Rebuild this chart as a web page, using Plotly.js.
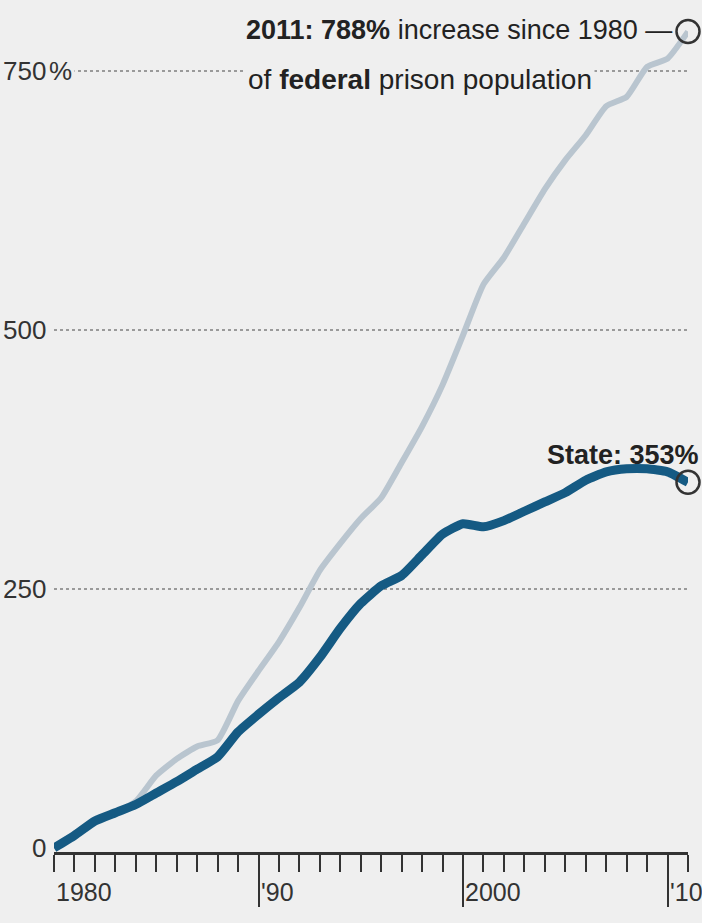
<!DOCTYPE html>
<html>
<head>
<meta charset="utf-8">
<script src="https://cdn.plot.ly/plotly-3.0.1.min.js"></script>
<style>html,body{margin:0;padding:0;background:#efefef;}#chart{width:702px;height:923px;}</style>
</head>
<body>
<div id="chart"></div>
<script>
// ---- data (percent increase since 1980) ----
var years = [1980,1981,1982,1983,1984,1985,1986,1987,1988,1989,1990,1991,1992,1993,1994,1995,
             1996,1997,1998,1999,2000,2001,2002,2003,2004,2005,2006,2007,2008,2009,2010,2011];
var federal = [0,14,26,34,45,70,86,98,104,142,171,199,232,268,294,318,
               338,372,407,447,495,544,570,603,636,664,688,716,725,754,762,788];
var state = [0,12,26,34,42,53,64,76,88,112,129,145,160,184,212,236,
             253,263,283,303,313,310,316,325,334,343,355,363,366,366,363,353];
var yTickVals = [0,250,500,750];
var yTickNums = ['0','250','500','750'];
var yTickSuffix = ['','','','%'];
var xLabelVals = [1980,1990,2000,2010];
var xLabelText = ['1980',"'90",'2000',"'10"];
var majorTicks = [1990,2000,2010];

var FONT = 'Liberation Sans, Arial, sans-serif';
var last = years.length - 1;

var traces = [
  {x: years, y: federal, type: 'scatter', mode: 'lines', hoverinfo: 'skip',
   line: {color: '#b9c5cf', width: 6, shape: 'spline', smoothing: 0.5}},
  {x: years, y: state, type: 'scatter', mode: 'lines', hoverinfo: 'skip',
   line: {color: '#155a83', width: 9, shape: 'spline', smoothing: 0.5}},
  {x: [years[last], years[last]], y: [federal[last], state[last]], type: 'scatter', mode: 'markers',
   cliponaxis: false, hoverinfo: 'skip',
   marker: {symbol: 'circle-open', size: 23, color: '#333', line: {width: 2.5, color: '#333'}}}
];

var annotations = [];
for (var i = 0; i < yTickVals.length; i++) {
  annotations.push({xref: 'paper', yref: 'y', x: 0, y: yTickVals[i], xanchor: 'right', yanchor: 'middle',
    xshift: -7, text: yTickNums[i], showarrow: false, font: {family: FONT, size: 26, color: '#333'},
    bgcolor: '#efefef', borderpad: 0});
  if (yTickSuffix[i]) {
    annotations.push({xref: 'paper', yref: 'y', x: 0, y: yTickVals[i], xanchor: 'left', yanchor: 'middle',
      xshift: -8, text: yTickSuffix[i], showarrow: false, font: {family: FONT, size: 26, color: '#333'},
      bgcolor: '#efefef', borderpad: 2});
  }
}
for (var j = 0; j < xLabelVals.length; j++) {
  annotations.push({xref: 'x', yref: 'paper', x: xLabelVals[j], y: 0, xanchor: 'left', yanchor: 'top',
    xshift: 0, yshift: -24, text: xLabelText[j], showarrow: false,
    font: {family: FONT, size: 25, color: '#333'}});
}
annotations.push({xref: 'paper', yref: 'paper', x: 0.301, y: 0.988, xanchor: 'left', yanchor: 'middle',
  text: '<b>' + years[last] + ': ' + federal[last] + '%</b> increase since 1980 \u2014',
  showarrow: false, font: {family: FONT, size: 27, color: '#222'}, bgcolor: '#efefef', borderpad: 0});
annotations.push({xref: 'paper', yref: 'paper', x: 0.301, y: 0.928, xanchor: 'left', yanchor: 'middle',
  text: 'of <b>federal</b> prison population',
  showarrow: false, font: {family: FONT, size: 28, color: '#222'}, bgcolor: '#efefef', borderpad: 2});
annotations.push({xref: 'x', yref: 'y', x: years[last], y: state[last], xanchor: 'right', yanchor: 'middle',
  xshift: 13, yshift: 27, text: '<b>State: ' + state[last] + '%</b>',
  showarrow: false, font: {family: FONT, size: 27, color: '#222'}});

var layout = {
  width: 702, height: 923,
  margin: {l: 54, r: 14, t: 20, b: 71},
  paper_bgcolor: '#efefef', plot_bgcolor: '#efefef',
  showlegend: false,
  xaxis: {range: [1980, 2011], showgrid: false, zeroline: false,
    showline: true, linecolor: '#333', linewidth: 3,
    tickmode: 'array', tickvals: majorTicks, ticks: 'outside', ticklen: 52, tickwidth: 2, tickcolor: '#333',
    showticklabels: false,
    minor: {tick0: 1980, dtick: 1, ticks: 'outside', ticklen: 17, tickwidth: 2, tickcolor: '#333', showgrid: false}},
  yaxis: {range: [-3.9, 799.2], showline: false, zeroline: false,
    tickmode: 'array', tickvals: yTickVals.slice(1), showticklabels: false, ticks: '',
    showgrid: true, gridcolor: '#9a9a9a', gridwidth: 2.5, griddash: 'dot'},
  annotations: annotations
};

Plotly.newPlot('chart', traces, layout, {staticPlot: true, displayModeBar: false});
</script>
</body>
</html>
